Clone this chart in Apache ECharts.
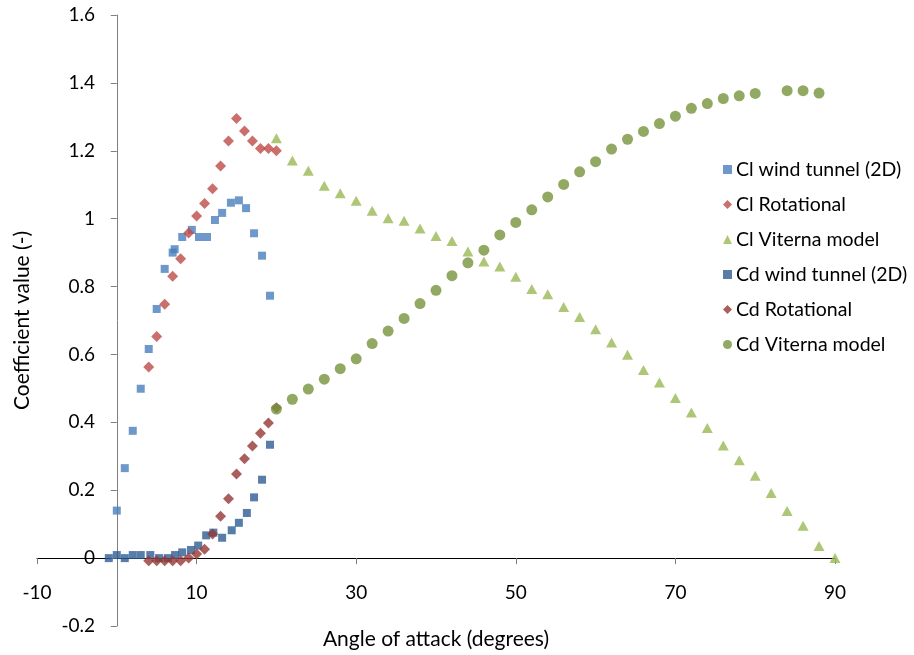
<!DOCTYPE html>
<html>
<head>
<meta charset="utf-8">
<script src="https://cdn.jsdelivr.net/npm/echarts@6/dist/echarts.min.js"></script>
<style>
  html, body { margin: 0; padding: 0; background: #fff; }
  #chart { width: 914px; height: 655px; }
</style>
</head>
<body>
<div id="chart"></div>
<script>
// angle of attack (degrees) and coefficient values
const clWindAlpha = [0, 1, 2, 3, 4, 5, 6, 7, 7.25, 8.2, 9.4, 10.3, 11.3, 12.3, 13.2, 14.3, 15.3, 16.2, 17.2, 18.2, 19.2];
const clWindValue = [0.14, 0.265, 0.375, 0.499, 0.616, 0.734, 0.852, 0.90, 0.91, 0.946, 0.967, 0.946, 0.946, 0.996, 1.017, 1.047, 1.054, 1.031, 0.957, 0.891, 0.773];

const clRotAlpha = [4, 5, 6, 7, 8, 9, 10, 11, 12, 13, 14, 15, 16, 17, 18, 19, 20];
const clRotValue = [0.563, 0.653, 0.748, 0.830, 0.882, 0.958, 1.008, 1.045, 1.088, 1.155, 1.229, 1.295, 1.258, 1.229, 1.207, 1.207, 1.200];

const clVitAlpha = [20, 22, 24, 26, 28, 30, 32, 34, 36, 38, 40, 42, 44, 46, 48, 50, 52, 54, 56, 58, 60, 62, 64, 66, 68, 70, 72, 74, 76, 78, 80, 82, 84, 86, 88, 90];
const clVitValue = [1.237, 1.171, 1.141, 1.097, 1.075, 1.053, 1.023, 1.001, 0.994, 0.971, 0.949, 0.934, 0.903, 0.874, 0.859, 0.829, 0.793, 0.777, 0.740, 0.710, 0.674, 0.635, 0.599, 0.554, 0.517, 0.472, 0.429, 0.383, 0.332, 0.288, 0.243, 0.192, 0.139, 0.095, 0.036, 0];

const cdWindAlpha = [-1, 0, 1, 2, 3, 4.2, 5.3, 6.4, 7.3, 8.2, 9.3, 10.2, 11.2, 12.1, 13.2, 14.4, 15.3, 16.3, 17.2, 18.2, 19.2];
const cdWindValue = [0, 0.009, 0, 0.009, 0.009, 0.009, 0, 0, 0.009, 0.017, 0.024, 0.037, 0.067, 0.075, 0.060, 0.082, 0.104, 0.133, 0.179, 0.231, 0.334];

const cdRotAlpha = [4, 5, 6, 7, 8, 9, 10, 11, 12, 13, 14, 15, 16, 17, 18, 19, 20];
const cdRotValue = [-0.008, -0.008, -0.008, -0.008, -0.008, 0, 0.012, 0.026, 0.071, 0.123, 0.175, 0.248, 0.293, 0.330, 0.368, 0.398, 0.443];

const cdVitAlpha = [20, 22, 24, 26, 28, 30, 32, 34, 36, 38, 40, 42, 44, 46, 48, 50, 52, 54, 56, 58, 60, 62, 64, 66, 68, 70, 72, 74, 76, 78, 80, 84, 86, 88];
const cdVitValue = [0.439, 0.468, 0.498, 0.527, 0.558, 0.587, 0.632, 0.669, 0.706, 0.750, 0.789, 0.832, 0.870, 0.907, 0.952, 0.989, 1.026, 1.064, 1.101, 1.138, 1.168, 1.205, 1.234, 1.257, 1.280, 1.302, 1.325, 1.339, 1.354, 1.362, 1.369, 1.377, 1.377, 1.370];

const seriesNames = ['Cl wind tunnel (2D)', 'Cl Rotational', 'Cl Viterna model', 'Cd wind tunnel (2D)', 'Cd Rotational', 'Cd Viterna model'];
const seriesColors = ['#4a7ebb', '#be4b48', '#98b954', '#2f5c94', '#953735', '#77933c'];

const FONT = 'Lato';

function pairs(xs, ys) {
  return xs.map((x, i) => [x, ys[i]]);
}

const chartDom = document.getElementById('chart');
const myChart = echarts.init(chartDom);

const option = {
  animation: false,
  textStyle: { fontFamily: FONT },
  grid: { left: 37, right: 79, top: 15, bottom: 29, containLabel: false, outerBoundsMode: 'none' },
  legend: {
    orient: 'vertical',
    left: 718,
    top: 154,
    itemGap: 14,
    itemWidth: 9,
    itemHeight: 9,
    textStyle: { fontFamily: FONT, fontSize: 19.5, color: '#000', lineHeight: 21, padding: [0, 0, 0, -1] },
    data: [
      { name: seriesNames[0], icon: 'path://M1,1h6v6h-6z' },
      { name: seriesNames[1], icon: 'diamond' },
      { name: seriesNames[2], icon: 'triangle' },
      { name: seriesNames[3], icon: 'path://M1,1h6v6h-6z' },
      { name: seriesNames[4], icon: 'diamond' },
      { name: seriesNames[5], icon: 'circle' }
    ]
  },
  xAxis: {
    type: 'value',
    min: -10,
    max: 90,
    interval: 20,
    name: 'Angle of attack (degrees)',
    nameLocation: 'middle',
    nameGap: 3,
    nameTextStyle: { fontFamily: FONT, fontSize: 21, color: '#000' },
    axisLine: { onZero: true, lineStyle: { color: '#000', width: 1 } },
    axisTick: { show: true, inside: false, length: 6, lineStyle: { color: '#7f7f7f' } },
    axisLabel: { margin: -43, fontFamily: FONT, fontSize: 19, color: '#000' },
    splitLine: { show: false }
  },
  yAxis: {
    type: 'value',
    min: -0.2,
    max: 1.6,
    interval: 0.2,
    name: 'Coefficient value (-)',
    nameLocation: 'middle',
    nameGap: 4,
    nameTextStyle: { fontFamily: FONT, fontSize: 21, color: '#000' },
    axisLine: { show: true, onZero: true, lineStyle: { color: '#7f7f7f', width: 1 } },
    axisTick: { show: true, inside: false, length: 6, lineStyle: { color: '#7f7f7f' } },
    axisLabel: { margin: -58, fontFamily: FONT, fontSize: 19, color: '#000' },
    splitLine: { show: false }
  },
  series: [
    { name: seriesNames[0], type: 'scatter', symbol: 'rect', symbolSize: 8, itemStyle: { color: seriesColors[0] }, data: pairs(clWindAlpha, clWindValue) },
    { name: seriesNames[1], type: 'scatter', symbol: 'diamond', symbolSize: 11, itemStyle: { color: seriesColors[1] }, data: pairs(clRotAlpha, clRotValue) },
    { name: seriesNames[2], type: 'scatter', symbol: 'triangle', symbolSize: [11, 10], itemStyle: { color: seriesColors[2] }, data: pairs(clVitAlpha, clVitValue) },
    { name: seriesNames[3], type: 'scatter', symbol: 'rect', symbolSize: 8, itemStyle: { color: seriesColors[3] }, data: pairs(cdWindAlpha, cdWindValue) },
    { name: seriesNames[4], type: 'scatter', symbol: 'diamond', symbolSize: 11, itemStyle: { color: seriesColors[4] }, data: pairs(cdRotAlpha, cdRotValue) },
    { name: seriesNames[5], type: 'scatter', symbol: 'circle', symbolSize: 11, itemStyle: { color: seriesColors[5] }, data: pairs(cdVitAlpha, cdVitValue) }
  ]
};

option && myChart.setOption(option);
</script>
</body>
</html>
